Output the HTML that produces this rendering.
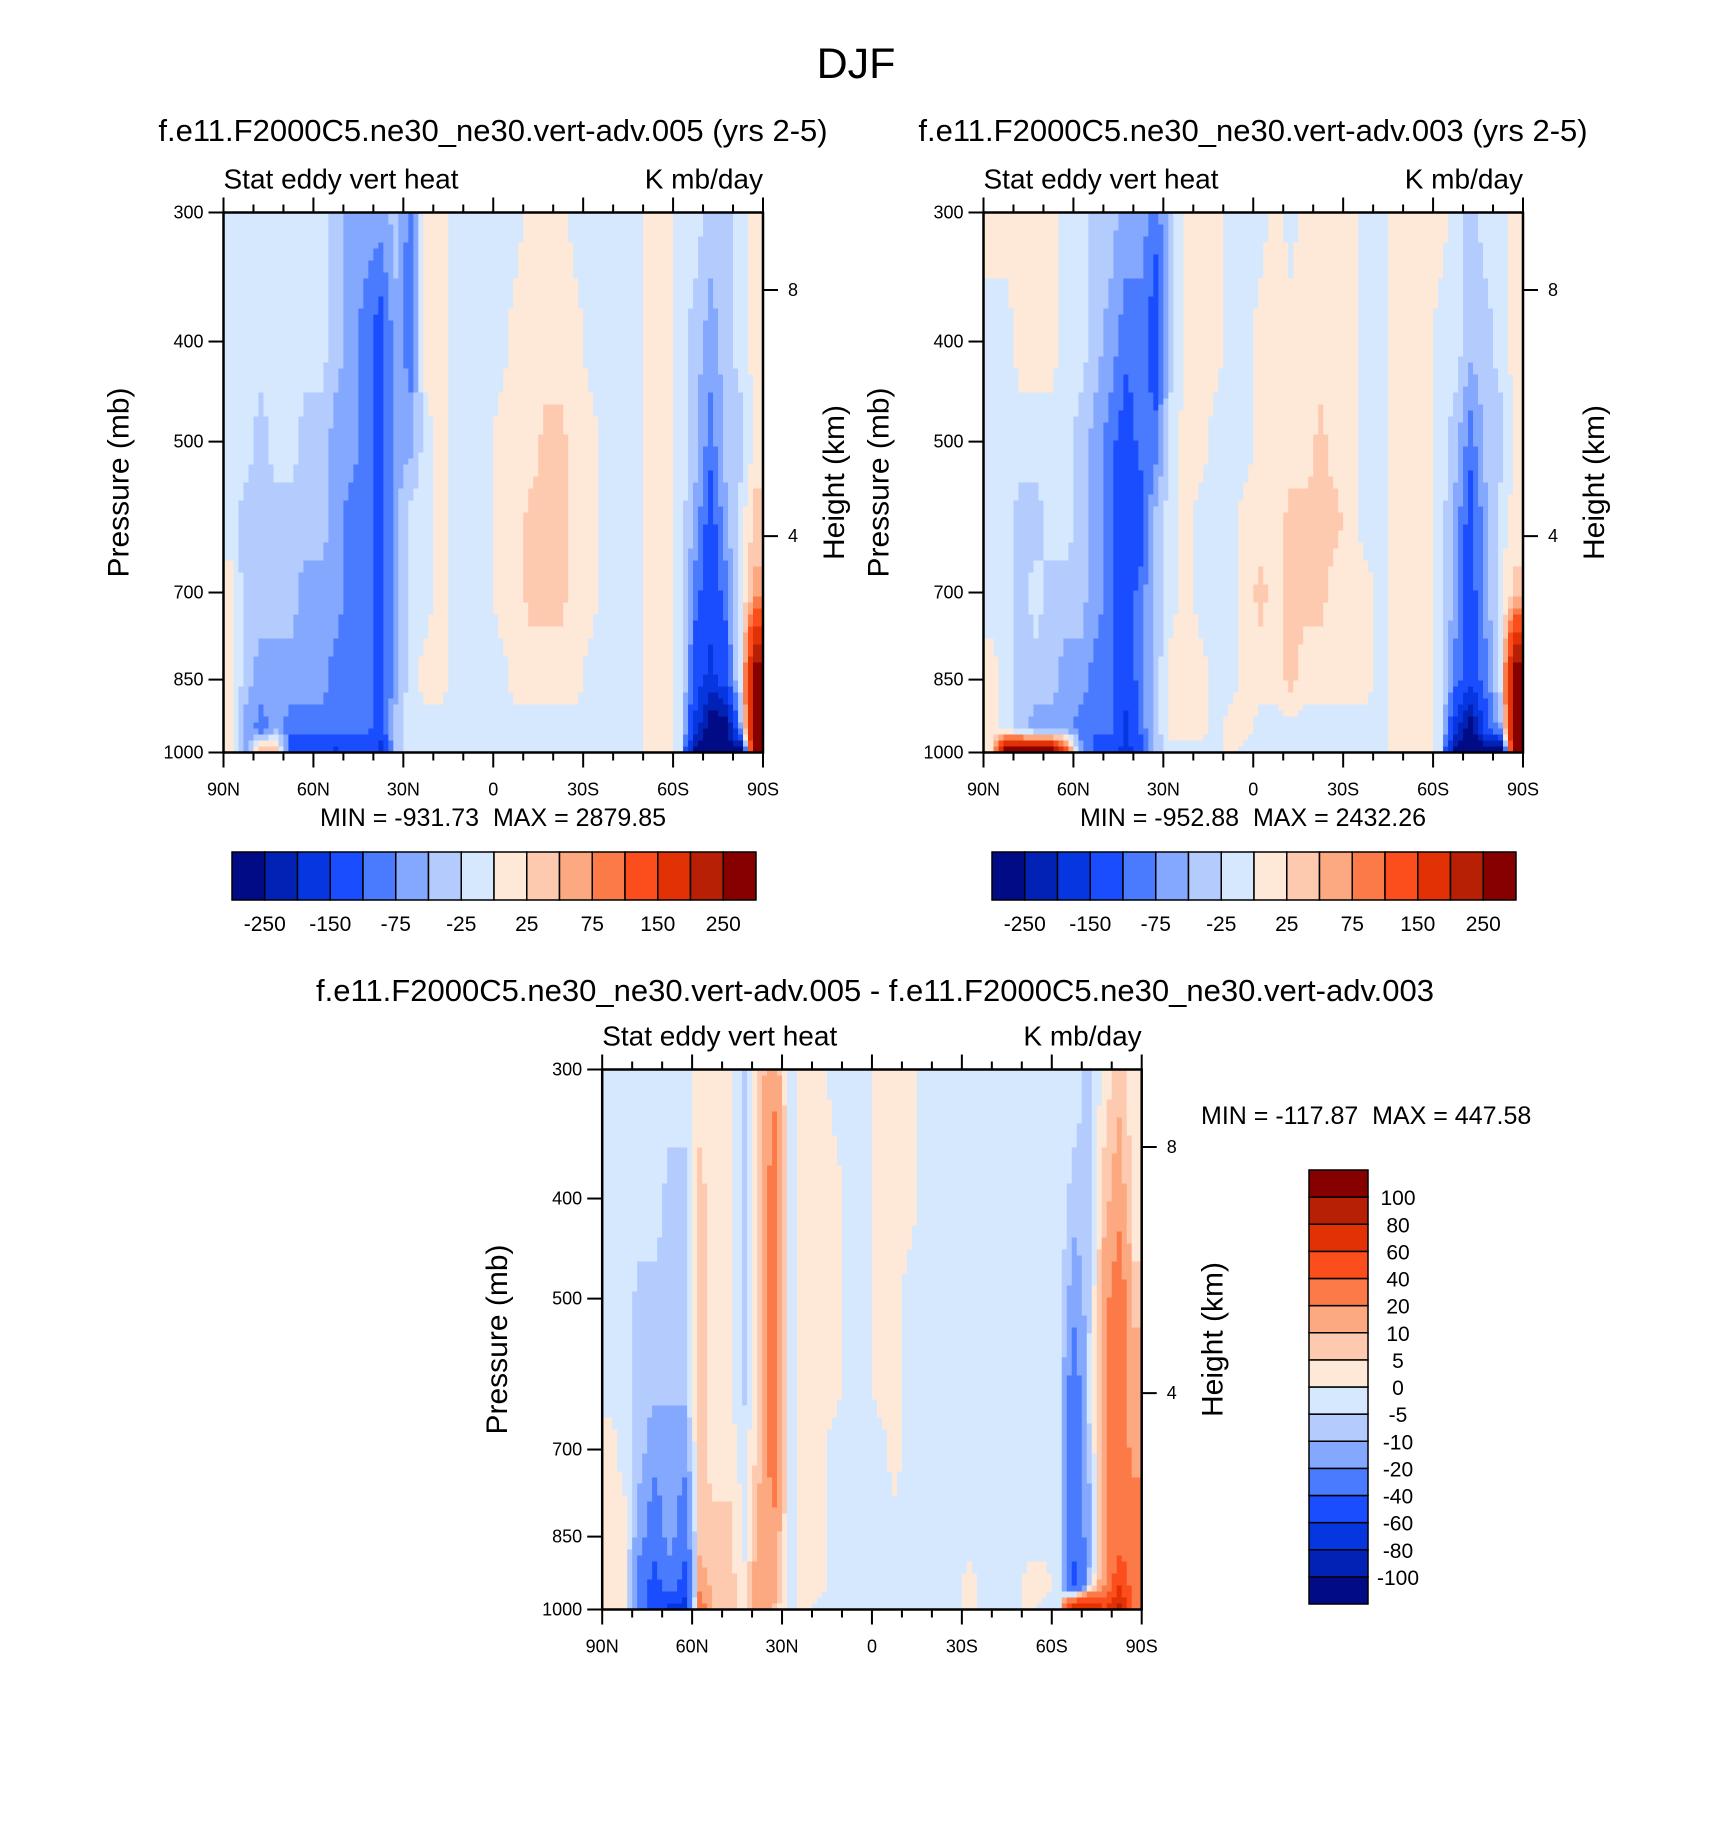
<!DOCTYPE html>
<html><head><meta charset="utf-8">
<style>
html,body{margin:0;padding:0;background:#fff;}
svg{display:block;font-family:"Liberation Sans",Arial,sans-serif;}
text{white-space:pre;}
</style></head>
<body>
<svg id="fig" width="1710" height="1830" viewBox="0 0 1710 1830" xmlns="http://www.w3.org/2000/svg">
<rect x="0" y="0" width="1710" height="1830" fill="#fff"/>
<text x="856" y="78" font-size="43" text-anchor="middle">DJF</text>
</svg>
<script>
// ---- data ----
const pressureLevels = [300,400,500,600,700,850,950,1000];
const latLabels = ["90N","60N","30N","0","30S","60S","90S"];
const pressureTicks = [300,400,500,700,850,1000];
const heightTicks = ["8","4"];
const topLevels = [-250,-200,-150,-100,-75,-50,-25,0,25,50,75,100,150,200,250];
const topLabelIdx = [0,2,4,6,8,10,12,14];
const diffLevels = [-100,-80,-60,-40,-20,-10,-5,0,5,10,20,40,60,80,100];
const levelColors = ["#020b86","#0222b6","#0636e0","#1a4dfd","#4a7afd","#84a8fd","#b3ccfd","#d5e8fd","#fee8d8","#fdcab0","#fca982","#fc7a48","#fc4d1c","#e23104","#b72004","#860000"];

// columns: 5-degree bins from 90N to 90S, values at pressureLevels
const leftPanelValues = [
[-10,-10,-10,-10,10,10,10,10],
[-10,-10,-10,-40,-40,-40,-60,-60],
[-10,-10,-40,-40,-40,-60,-90,60],
[-10,-10,-10,-40,-40,-60,-60,60],
[-10,-10,-10,-40,-40,-60,-90,-120],
[-10,-10,-40,-40,-60,-60,-90,-120],
[-10,-10,-40,-40,-60,-60,-90,-120],
[-40,-40,-60,-60,-60,-90,-90,-170],
[-60,-60,-60,-90,-90,-90,-90,-120],
[-60,-90,-90,-90,-90,-90,-90,-120],
[-60,-120,-120,-120,-120,-120,-120,-170],
[-40,-60,-60,-60,-60,-60,-40,-40],
[-90,-90,-60,-10,-10,-10,-10,-10],
[10,10,-10,-10,-10,10,-10,-10],
[10,10,10,10,10,10,-10,-10],
[-10,-10,-10,-10,-10,-10,-10,-10],
[-10,-10,-10,-10,-10,-10,-10,-10],
[-10,-10,-10,-10,-10,-10,-10,-10],
[-10,-10,10,10,10,-10,-10,-10],
[-10,10,10,10,10,10,-10,-10],
[10,10,10,35,35,10,-10,-10],
[10,10,35,35,35,10,-10,-10],
[10,10,35,35,35,10,-10,-10],
[-10,10,10,10,10,10,-10,-10],
[-10,-10,10,10,10,-10,-10,-10],
[-10,-10,-10,-10,-10,-10,-10,-10],
[-10,-10,-10,-10,-10,-10,-10,-10],
[-10,-10,-10,-10,-10,-10,-10,-10],
[10,10,10,10,10,10,10,10],
[10,10,10,10,10,10,10,10],
[-10,-10,-10,-10,-10,-10,-10,-10],
[-10,-40,-40,-60,-90,-120,-170,-300],
[-40,-60,-90,-120,-120,-170,-300,-300],
[-40,-40,-40,-60,-90,-120,-300,-300],
[-10,-10,-40,-10,-10,-10,-60,-300],
[10,10,10,35,60,300,300,300]
];
const rightPanelValues = [
[10,-10,-10,-10,-10,10,10,10],
[10,-10,-10,-10,-10,-10,-10,300],
[10,10,-10,-40,-40,-40,-40,300],
[10,10,-10,-40,-10,-40,-60,300],
[10,10,-10,-10,-40,-40,-60,300],
[-10,-10,-10,-10,-40,-60,-60,150],
[-10,-10,-40,-40,-40,-60,-90,-60],
[-40,-40,-60,-60,-60,-90,-90,-120],
[-40,-60,-90,-90,-90,-90,-90,-120],
[-60,-90,-120,-120,-120,-120,-170,-170],
[-60,-90,-90,-120,-90,-90,-90,-120],
[-90,-120,-90,-40,-40,-40,-40,-40],
[-40,-40,-10,-10,-10,10,10,-10],
[10,10,10,10,10,10,10,-10],
[10,10,10,-10,-10,10,10,-10],
[10,10,-10,-10,-10,-10,-10,-10],
[-10,-10,-10,-10,-10,-10,10,10],
[-10,-10,-10,10,10,10,10,-10],
[-10,10,10,10,35,10,-10,-10],
[10,10,10,10,10,10,-10,-10],
[-10,10,10,35,35,35,-10,-10],
[10,10,10,35,35,10,-10,-10],
[10,10,35,35,35,10,-10,-10],
[10,10,10,35,10,10,-10,-10],
[10,10,10,10,10,10,-10,-10],
[-10,-10,-10,-10,10,10,-10,-10],
[-10,-10,-10,-10,-10,-10,-10,-10],
[10,10,10,10,10,10,10,10],
[10,10,10,10,10,10,10,10],
[10,10,10,10,10,10,10,10],
[10,-10,-10,-10,-10,-10,-10,-10],
[-10,-10,-40,-60,-60,-90,-170,-300],
[-40,-40,-90,-120,-120,-120,-300,-300],
[-10,-40,-40,-60,-60,-90,-120,-300],
[-10,-10,-40,-10,-10,-10,-60,-300],
[10,10,10,10,35,300,300,300]
];
const diffPanelValues = [
[-2,-2,-2,-2,2,2,2,2],
[-2,-2,-2,-2,-2,2,2,2],
[-2,-2,-7,-7,-7,-15,-30,-30],
[-2,-2,-7,-7,-15,-30,-50,-50],
[-2,-7,-7,-7,-15,-15,-30,-70],
[-2,-7,-7,-7,-15,-30,-50,-70],
[2,7,7,7,7,7,15,30],
[2,2,2,2,2,7,7,7],
[2,2,2,2,2,7,7,7],
[-7,-7,-7,-7,-2,-2,2,2],
[7,7,7,7,7,15,15,15],
[15,30,30,30,30,15,15,7],
[-2,-2,-2,-2,-2,-2,-2,-2],
[2,2,2,2,2,2,2,2],
[2,2,2,2,2,2,2,-2],
[-2,2,2,2,-2,-2,-2,-2],
[-2,-2,-2,-2,-2,-2,-2,-2],
[-2,-2,-2,-2,-2,-2,-2,-2],
[2,2,2,2,-2,-2,-2,-2],
[2,2,2,2,2,-2,-2,-2],
[2,2,-2,-2,-2,-2,-2,-2],
[-2,-2,-2,-2,-2,-2,-2,-2],
[-2,-2,-2,-2,-2,-2,-2,-2],
[-2,-2,-2,-2,-2,-2,-2,-2],
[-2,-2,-2,-2,-2,-2,2,2],
[-2,-2,-2,-2,-2,-2,-2,-2],
[-2,-2,-2,-2,-2,-2,-2,-2],
[-2,-2,-2,-2,-2,-2,-2,-2],
[-2,-2,-2,-2,-2,-2,2,2],
[-2,-2,-2,-2,-2,-2,2,-2],
[-2,-2,-2,-2,-2,-2,-2,-2],
[-2,-7,-15,-30,-30,-30,-50,90],
[-7,-7,-7,-2,-7,-15,-7,90],
[2,7,15,15,15,15,20,60],
[7,15,30,30,30,30,60,90],
[2,2,7,15,15,30,30,30]
];

// ---- rendering ----
const NS = "http://www.w3.org/2000/svg";
const svg = document.getElementById('fig');
function mk(tag, attrs, parent){
  const e = document.createElementNS(NS, tag);
  for (const k in attrs) e.setAttribute(k, attrs[k]);
  (parent||svg).appendChild(e);
  return e;
}
function colorFor(v, levels){
  let i = 0;
  while (i < levels.length && v >= levels[i]) i++;
  return levelColors[i];
}
const PW = 539.5, PH = 540;

function panel(ox, oy, values, levels, name){
  const g = mk('g', {});
  
  
  const xScale = lat => ox + (90 - lat) / 180 * PW;
  const yScale = p => oy + Math.log(p / 300) / Math.log(1000 / 300) * PH;
  const nCol = values.length;
  const colX = values.map((_, c) => xScale(90 - (c + 0.5) * 180 / nCol));
  const levY = pressureLevels.map(p => yScale(p));
  function sampleCol(c, y){
    const col = values[c];
    if (y <= levY[0]) return col[0];
    for (let r = 0; r < levY.length - 1; r++){
      if (y <= levY[r+1]){
        const t = (y - levY[r]) / (levY[r+1] - levY[r]);
        return col[r] * (1 - t) + col[r+1] * t;
      }
    }
    return col[col.length - 1];
  }
  function sample(x, y){
    if (x <= colX[0]) return sampleCol(0, y);
    if (x >= colX[nCol-1]) return sampleCol(nCol-1, y);
    const f = (x - colX[0]) / (colX[1] - colX[0]);
    const c = Math.min(nCol - 2, Math.floor(f));
    const t = f - c;
    return sampleCol(c, y) * (1 - t) + sampleCol(c+1, y) * t;
  }
  const NX = 108, NY = 90;
  const dx = PW / NX, dy = PH / NY;
  for (let j = 0; j < NY; j++){
    const y = oy + (j + 0.5) * dy;
    let runStart = 0, runColor = colorFor(sample(ox + 0.5 * dx, y), levels);
    for (let i = 1; i <= NX; i++){
      const col = i < NX ? colorFor(sample(ox + (i + 0.5) * dx, y), levels) : null;
      if (col !== runColor){
        const cell = mk('rect', {x: ox + runStart * dx, y: oy + j * dy, width: (i - runStart) * dx + 0.5, height: dy + 0.5, fill: runColor}, g);
        
        
        runStart = i; runColor = col;
      }
    }
  }
  const frame = mk('rect', {x: ox, y: oy, width: PW, height: PH, fill: 'none', stroke: '#000', 'stroke-width': 2.5}, g);
  
  
  for (let d = 0; d <= 18; d++){
    const lat = 90 - d * 10;
    const x = xScale(lat);
    const major = (lat % 30) === 0;
    const L = major ? 15 : 8;
    mk('line', {x1: x, y1: oy + PH, x2: x, y2: oy + PH + L, stroke: '#000', 'stroke-width': 2}, g);
    mk('line', {x1: x, y1: oy, x2: x, y2: oy - L, stroke: '#000', 'stroke-width': 2}, g);
  }
  latLabels.forEach((lab, i) => {
    const t = mk('text', {x: xScale(90 - i * 30), y: oy + PH + 43, 'font-size': 18, 'text-anchor': 'middle'}, g);
    t.textContent = lab;
    
    
  });
  pressureTicks.forEach(p => {
    const y = yScale(p);
    mk('line', {x1: ox, y1: y, x2: ox - 15, y2: y, stroke: '#000', 'stroke-width': 2}, g);
    const t = mk('text', {x: ox - 20, y: y + 6, 'font-size': 18, 'text-anchor': 'end'}, g);
    t.textContent = p;
    
    
  });
  const hFrac = [0.8565, 0.4007];
  heightTicks.forEach((h, i) => {
    const y = oy + PH - hFrac[i] * PH;
    mk('line', {x1: ox + PW, y1: y, x2: ox + PW + 15, y2: y, stroke: '#000', 'stroke-width': 2}, g);
    const t = mk('text', {x: ox + PW + 25, y: y + 6, 'font-size': 18}, g);
    t.textContent = h;
    
    
  });
  const s1 = mk('text', {x: ox, y: oy - 24, 'font-size': 28}, g);
  s1.textContent = 'Stat eddy vert heat';
  
  
  const s2 = mk('text', {x: ox + PW, y: oy - 24, 'font-size': 28, 'text-anchor': 'end'}, g);
  s2.textContent = 'K mb/day';
  
  
  const px = ox - 95;
  const yt = mk('text', {x: px, y: oy + PH/2, 'font-size': 30, 'text-anchor': 'middle', transform: `rotate(-90 ${px} ${oy+PH/2})`}, g);
  yt.textContent = 'Pressure (mb)';
  
  
  const hx = ox + PW + 81;
  const ht = mk('text', {x: hx, y: oy + PH/2, 'font-size': 30, 'text-anchor': 'middle', transform: `rotate(-90 ${hx} ${oy+PH/2})`}, g);
  ht.textContent = 'Height (km)';
  
  
}

function hColorbar(x, y, w, h){
  const g = mk('g', {});
  
  
  const bw = w / levelColors.length;
  levelColors.forEach((c, i) => {
    const b = mk('rect', {x: x + i * bw, y: y, width: bw, height: h, fill: c, stroke: '#000', 'stroke-width': 1.5}, g);
    
    
  });
  topLabelIdx.forEach(i => {
    const t = mk('text', {x: x + (i + 1) * bw, y: y + h + 31, 'font-size': 21, 'text-anchor': 'middle'}, g);
    t.textContent = topLevels[i];
    
    
  });
}
function vColorbar(x, y, w, h){
  const g = mk('g', {});
  
  
  const n = levelColors.length, bh = h / n;
  levelColors.forEach((c, i) => {
    const b = mk('rect', {x: x, y: y + (n - 1 - i) * bh, width: w, height: bh, fill: c, stroke: '#000', 'stroke-width': 1.5}, g);
    
    
  });
  diffLevels.forEach((v, i) => {
    const t = mk('text', {x: x + w + 30, y: y + (n - 1 - i) * bh + 8, 'font-size': 21, 'text-anchor': 'middle'}, g);
    t.textContent = v;
    
    
  });
}
function txt(x, y, s, size, name, anchor){
  const t = mk('text', {x: x, y: y, 'font-size': size, 'text-anchor': anchor || 'middle'});
  t.textContent = s;
  
  
}

txt(493, 141, 'f.e11.F2000C5.ne30_ne30.vert-adv.005 (yrs 2-5)', 31, 'left-panel-title');
panel(223.5, 212.5, leftPanelValues, topLevels, 'left-panel');
txt(493, 826, 'MIN = -931.73  MAX = 2879.85', 25, 'left-minmax');
hColorbar(232, 852, 524, 48);

txt(1253, 141, 'f.e11.F2000C5.ne30_ne30.vert-adv.003 (yrs 2-5)', 31, 'right-panel-title');
panel(983.5, 212.5, rightPanelValues, topLevels, 'right-panel');
txt(1253, 826, 'MIN = -952.88  MAX = 2432.26', 25, 'right-minmax');
hColorbar(992, 852, 524, 48);

txt(875, 1001, 'f.e11.F2000C5.ne30_ne30.vert-adv.005 - f.e11.F2000C5.ne30_ne30.vert-adv.003', 31, 'diff-panel-title');
panel(602.2, 1069.5, diffPanelValues, diffLevels, 'diff-panel');
txt(1201, 1124, 'MIN = -117.87  MAX = 447.58', 25, 'diff-minmax', 'start');
vColorbar(1309, 1170, 59, 434);
</script>
</body></html>
